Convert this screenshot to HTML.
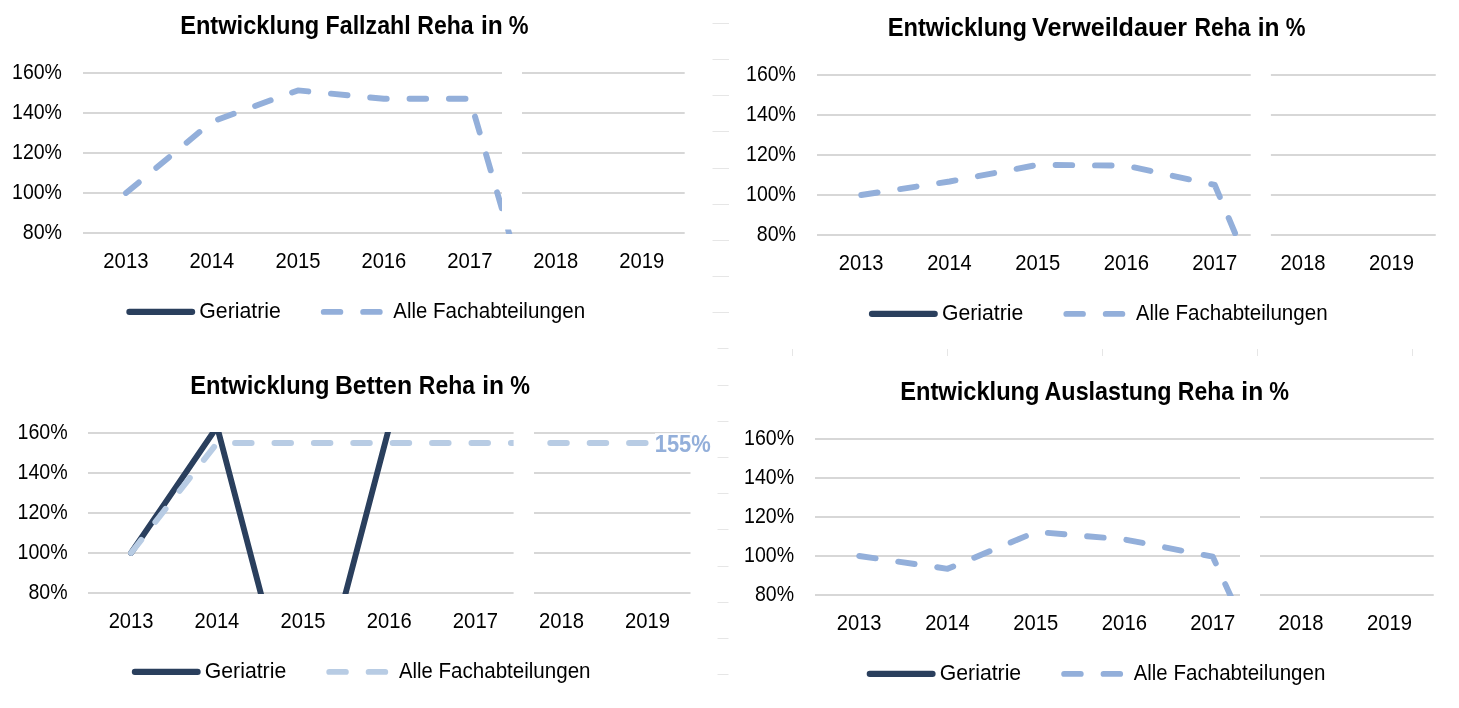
<!DOCTYPE html>
<html lang="de">
<head>
<meta charset="utf-8">
<title>Entwicklung Reha</title>
<style>
html,body{margin:0;padding:0;background:#fff;}
body{width:1459px;height:708px;overflow:hidden;}
svg{display:block;}
text{font-family:"Liberation Sans", sans-serif;fill:#000;}
</style>
</head>
<body>
<svg width="1459" height="708" viewBox="0 0 1459 708">
<rect width="1459" height="708" fill="#fff"/>
<g stroke="#e6e6e6" stroke-width="1" fill="none">
<path d="M712.5 23.5H729"/>
<path d="M712.5 59.5H729"/>
<path d="M712.5 95.5H729"/>
<path d="M712.5 131.5H729"/>
<path d="M712.5 168.5H729"/>
<path d="M712.5 204.5H729"/>
<path d="M712.5 240.5H729"/>
<path d="M712.5 276.5H729"/>
<path d="M712.5 312.5H729"/>
<path d="M717.5 348.5H728.5"/>
<path d="M717.5 385.5H728.5"/>
<path d="M717.5 421.5H728.5"/>
<path d="M717.5 457.5H728.5"/>
<path d="M717.5 493.5H728.5"/>
<path d="M717.5 529.5H728.5"/>
<path d="M717.5 566.5H728.5"/>
<path d="M717.5 602.5H728.5"/>
<path d="M717.5 638.5H728.5"/>
<path d="M717.5 674.5H728.5"/>
<path d="M792.5 349V356"/>
<path d="M947.5 349V356"/>
<path d="M1102.5 349V356"/>
<path d="M1257.5 349V356"/>
<path d="M1412.5 349V356"/>
</g>
<g id="chart1">
<g stroke="#d7d7d7" stroke-width="2" fill="none">
<path d="M83.00 73H684.70"/>
<path d="M83.00 113H684.70"/>
<path d="M83.00 153H684.70"/>
<path d="M83.00 193H684.70"/>
<path d="M83.00 233H684.70"/>
</g>
<clipPath id="clip1"><rect x="83.00" y="72.00" width="601.70" height="162.00"/></clipPath>
<g clip-path="url(#clip1)" fill="none" stroke-linecap="round" stroke-linejoin="round">
<path d="M125.98 193.00 L211.94 121.70 L297.89 90.40 L383.85 98.80 L469.81 98.80 L555.76 393.00" stroke="#93afda" stroke-width="5.90" stroke-dasharray="16.6 22.8"/>
</g>
<rect x="502.00" y="60.00" width="20.00" height="169.50" fill="#fff"/>
<text y="33.60" font-size="25.0" font-weight="bold"><tspan x="180.19" textLength="139.07" lengthAdjust="spacingAndGlyphs">Entwicklung</tspan> <tspan x="325.56" textLength="85.15" lengthAdjust="spacingAndGlyphs">Fallzahl</tspan> <tspan x="417.37" textLength="56.28" lengthAdjust="spacingAndGlyphs">Reha</tspan> <tspan x="480.95" textLength="21.81" lengthAdjust="spacingAndGlyphs">in</tspan> <tspan x="508.67" textLength="19.75" lengthAdjust="spacingAndGlyphs">%</tspan></text>
<text x="12.07" y="78.50" font-size="22.1" textLength="49.90" lengthAdjust="spacingAndGlyphs">160%</text>
<text x="12.07" y="118.50" font-size="22.1" textLength="49.90" lengthAdjust="spacingAndGlyphs">140%</text>
<text x="12.07" y="158.50" font-size="22.1" textLength="49.90" lengthAdjust="spacingAndGlyphs">120%</text>
<text x="12.07" y="198.50" font-size="22.1" textLength="49.90" lengthAdjust="spacingAndGlyphs">100%</text>
<text x="22.73" y="238.50" font-size="22.1" textLength="39.30" lengthAdjust="spacingAndGlyphs">80%</text>
<text x="103.35" y="267.70" font-size="22.1" textLength="45.09" lengthAdjust="spacingAndGlyphs">2013</text>
<text x="189.40" y="267.70" font-size="22.1" textLength="44.70" lengthAdjust="spacingAndGlyphs">2014</text>
<text x="275.40" y="267.70" font-size="22.1" textLength="45.00" lengthAdjust="spacingAndGlyphs">2015</text>
<text x="361.43" y="267.70" font-size="22.1" textLength="44.87" lengthAdjust="spacingAndGlyphs">2016</text>
<text x="447.20" y="267.70" font-size="22.1" textLength="45.27" lengthAdjust="spacingAndGlyphs">2017</text>
<text x="533.25" y="267.70" font-size="22.1" textLength="44.85" lengthAdjust="spacingAndGlyphs">2018</text>
<text x="619.29" y="267.70" font-size="22.1" textLength="45.06" lengthAdjust="spacingAndGlyphs">2019</text>
<path d="M129.35 311.90H192.15" stroke="#2a3f5d" stroke-width="6.1" stroke-linecap="round" fill="none"/>
<path d="M323.75 311.90H379.76" stroke="#93afda" stroke-width="5.90" stroke-linecap="round" stroke-dasharray="16.6 22.8" fill="none"/>
<text x="199.31" y="318.20" font-size="21.3" textLength="81.52" lengthAdjust="spacingAndGlyphs">Geriatrie</text>
<text y="318.20" font-size="21.3"><tspan x="393.37" textLength="33.82" lengthAdjust="spacingAndGlyphs">Alle</tspan> <tspan x="433.01" textLength="152.08" lengthAdjust="spacingAndGlyphs">Fachabteilungen</tspan></text>
</g>
<g id="chart2">
<g stroke="#d7d7d7" stroke-width="2" fill="none">
<path d="M817.00 75H1435.75"/>
<path d="M817.00 115H1435.75"/>
<path d="M817.00 155H1435.75"/>
<path d="M817.00 195H1435.75"/>
<path d="M817.00 235H1435.75"/>
</g>
<clipPath id="clip2"><rect x="817.00" y="74.00" width="618.75" height="162.00"/></clipPath>
<g clip-path="url(#clip2)" fill="none" stroke-linecap="round" stroke-linejoin="round">
<path d="M861.20 195.00 L949.59 181.50 L1037.98 164.80 L1126.38 165.70 L1214.77 185.00 L1303.16 395.00" stroke="#93afda" stroke-width="5.90" stroke-dasharray="16.6 22.8"/>
</g>
<rect x="1250.70" y="60.00" width="20.20" height="180.00" fill="#fff"/>
<text y="35.60" font-size="25.0" font-weight="bold"><tspan x="887.67" textLength="139.33" lengthAdjust="spacingAndGlyphs">Entwicklung</tspan> <tspan x="1032.06" textLength="154.96" lengthAdjust="spacingAndGlyphs">Verweildauer</tspan> <tspan x="1194.38" textLength="56.09" lengthAdjust="spacingAndGlyphs">Reha</tspan> <tspan x="1257.69" textLength="21.78" lengthAdjust="spacingAndGlyphs">in</tspan> <tspan x="1285.67" textLength="19.73" lengthAdjust="spacingAndGlyphs">%</tspan></text>
<text x="746.07" y="80.50" font-size="22.1" textLength="49.90" lengthAdjust="spacingAndGlyphs">160%</text>
<text x="746.07" y="120.50" font-size="22.1" textLength="49.90" lengthAdjust="spacingAndGlyphs">140%</text>
<text x="746.07" y="160.50" font-size="22.1" textLength="49.90" lengthAdjust="spacingAndGlyphs">120%</text>
<text x="746.07" y="200.50" font-size="22.1" textLength="49.90" lengthAdjust="spacingAndGlyphs">100%</text>
<text x="756.73" y="240.50" font-size="22.1" textLength="39.30" lengthAdjust="spacingAndGlyphs">80%</text>
<text x="838.71" y="269.70" font-size="22.1" textLength="44.85" lengthAdjust="spacingAndGlyphs">2013</text>
<text x="927.16" y="269.70" font-size="22.1" textLength="44.61" lengthAdjust="spacingAndGlyphs">2014</text>
<text x="1015.36" y="269.70" font-size="22.1" textLength="45.00" lengthAdjust="spacingAndGlyphs">2015</text>
<text x="1103.83" y="269.70" font-size="22.1" textLength="45.13" lengthAdjust="spacingAndGlyphs">2016</text>
<text x="1192.26" y="269.70" font-size="22.1" textLength="45.11" lengthAdjust="spacingAndGlyphs">2017</text>
<text x="1280.54" y="269.70" font-size="22.1" textLength="45.09" lengthAdjust="spacingAndGlyphs">2018</text>
<text x="1368.95" y="269.70" font-size="22.1" textLength="45.06" lengthAdjust="spacingAndGlyphs">2019</text>
<path d="M871.95 313.90H934.75" stroke="#2a3f5d" stroke-width="6.1" stroke-linecap="round" fill="none"/>
<path d="M1066.35 313.90H1122.36" stroke="#93afda" stroke-width="5.90" stroke-linecap="round" stroke-dasharray="16.6 22.8" fill="none"/>
<text x="942.01" y="320.20" font-size="21.3" textLength="81.26" lengthAdjust="spacingAndGlyphs">Geriatrie</text>
<text y="320.20" font-size="21.3"><tspan x="1136.05" textLength="33.55" lengthAdjust="spacingAndGlyphs">Alle</tspan> <tspan x="1175.50" textLength="152.07" lengthAdjust="spacingAndGlyphs">Fachabteilungen</tspan></text>
</g>
<g id="chart3">
<g stroke="#d7d7d7" stroke-width="2" fill="none">
<path d="M88.00 433H690.50"/>
<path d="M88.00 473H690.50"/>
<path d="M88.00 513H690.50"/>
<path d="M88.00 553H690.50"/>
<path d="M88.00 593H690.50"/>
</g>
<clipPath id="clip3"><rect x="88.00" y="432.00" width="602.50" height="162.00"/></clipPath>
<g clip-path="url(#clip3)" fill="none" stroke-linecap="round" stroke-linejoin="round">
<path d="M131.04 553.00 L217.11 426.70 L303.18 755.00 L389.25 427.00" stroke="#2a3f5d" stroke-width="5.90"/>
<path d="M131.04 553.00 L217.11 443.00 L647.46 443.00" stroke="#b8cce4" stroke-width="5.90" stroke-dasharray="16.6 22.8"/>
</g>
<rect x="513.60" y="420.00" width="20.40" height="178.00" fill="#fff"/>
<text y="393.60" font-size="25.0" font-weight="bold"><tspan x="190.19" textLength="139.30" lengthAdjust="spacingAndGlyphs">Entwicklung</tspan> <tspan x="334.88" textLength="77.21" lengthAdjust="spacingAndGlyphs">Betten</tspan> <tspan x="418.85" textLength="56.10" lengthAdjust="spacingAndGlyphs">Reha</tspan> <tspan x="482.16" textLength="21.80" lengthAdjust="spacingAndGlyphs">in</tspan> <tspan x="510.21" textLength="19.71" lengthAdjust="spacingAndGlyphs">%</tspan></text>
<text x="17.55" y="438.50" font-size="22.1" textLength="50.19" lengthAdjust="spacingAndGlyphs">160%</text>
<text x="17.55" y="478.50" font-size="22.1" textLength="50.19" lengthAdjust="spacingAndGlyphs">140%</text>
<text x="17.55" y="518.50" font-size="22.1" textLength="50.19" lengthAdjust="spacingAndGlyphs">120%</text>
<text x="17.55" y="558.50" font-size="22.1" textLength="50.19" lengthAdjust="spacingAndGlyphs">100%</text>
<text x="28.43" y="598.50" font-size="22.1" textLength="39.09" lengthAdjust="spacingAndGlyphs">80%</text>
<text x="108.64" y="627.70" font-size="22.1" textLength="44.90" lengthAdjust="spacingAndGlyphs">2013</text>
<text x="194.54" y="627.70" font-size="22.1" textLength="44.74" lengthAdjust="spacingAndGlyphs">2014</text>
<text x="280.62" y="627.70" font-size="22.1" textLength="44.95" lengthAdjust="spacingAndGlyphs">2015</text>
<text x="366.75" y="627.70" font-size="22.1" textLength="44.91" lengthAdjust="spacingAndGlyphs">2016</text>
<text x="452.84" y="627.70" font-size="22.1" textLength="45.11" lengthAdjust="spacingAndGlyphs">2017</text>
<text x="538.92" y="627.70" font-size="22.1" textLength="45.05" lengthAdjust="spacingAndGlyphs">2018</text>
<text x="625.02" y="627.70" font-size="22.1" textLength="45.01" lengthAdjust="spacingAndGlyphs">2019</text>
<path d="M134.85 671.90H197.65" stroke="#2a3f5d" stroke-width="6.1" stroke-linecap="round" fill="none"/>
<path d="M329.25 671.90H385.26" stroke="#b8cce4" stroke-width="5.90" stroke-linecap="round" stroke-dasharray="16.6 22.8" fill="none"/>
<text x="204.78" y="678.20" font-size="21.3" textLength="81.43" lengthAdjust="spacingAndGlyphs">Geriatrie</text>
<text y="678.20" font-size="21.3"><tspan x="399.07" textLength="33.60" lengthAdjust="spacingAndGlyphs">Alle</tspan> <tspan x="438.47" textLength="152.08" lengthAdjust="spacingAndGlyphs">Fachabteilungen</tspan></text>
<rect x="655" y="433.2" width="56.5" height="21" fill="#fff"/>
<text x="654.71" y="452.00" font-size="24.0" font-weight="bold" style="fill:#93afda" textLength="56.14" lengthAdjust="spacingAndGlyphs">155%</text>
</g>
<g id="chart4">
<g stroke="#d7d7d7" stroke-width="2" fill="none">
<path d="M815.00 439H1433.75"/>
<path d="M815.00 478H1433.75"/>
<path d="M815.00 517H1433.75"/>
<path d="M815.00 556H1433.75"/>
<path d="M815.00 595H1433.75"/>
</g>
<clipPath id="clip4"><rect x="815.00" y="438.00" width="618.75" height="158.00"/></clipPath>
<g clip-path="url(#clip4)" fill="none" stroke-linecap="round" stroke-linejoin="round">
<path d="M859.20 556.00 L947.59 568.80 L1035.98 531.90 L1124.38 539.40 L1212.77 556.70 L1301.16 751.00" stroke="#93afda" stroke-width="5.90" stroke-dasharray="16.6 22.8"/>
</g>
<rect x="1240.00" y="441.00" width="20.00" height="159.00" fill="#fff"/>
<text y="399.60" font-size="25.0" font-weight="bold"><tspan x="900.19" textLength="139.30" lengthAdjust="spacingAndGlyphs">Entwicklung</tspan> <tspan x="1044.52" textLength="127.09" lengthAdjust="spacingAndGlyphs">Auslastung</tspan> <tspan x="1177.87" textLength="56.24" lengthAdjust="spacingAndGlyphs">Reha</tspan> <tspan x="1241.37" textLength="21.87" lengthAdjust="spacingAndGlyphs">in</tspan> <tspan x="1269.22" textLength="19.74" lengthAdjust="spacingAndGlyphs">%</tspan></text>
<text x="744.09" y="444.50" font-size="22.1" textLength="50.07" lengthAdjust="spacingAndGlyphs">160%</text>
<text x="744.09" y="483.50" font-size="22.1" textLength="50.07" lengthAdjust="spacingAndGlyphs">140%</text>
<text x="744.09" y="522.50" font-size="22.1" textLength="50.07" lengthAdjust="spacingAndGlyphs">120%</text>
<text x="744.09" y="561.50" font-size="22.1" textLength="50.07" lengthAdjust="spacingAndGlyphs">100%</text>
<text x="754.98" y="600.50" font-size="22.1" textLength="39.08" lengthAdjust="spacingAndGlyphs">80%</text>
<text x="836.71" y="629.70" font-size="22.1" textLength="44.85" lengthAdjust="spacingAndGlyphs">2013</text>
<text x="925.16" y="629.70" font-size="22.1" textLength="44.61" lengthAdjust="spacingAndGlyphs">2014</text>
<text x="1013.36" y="629.70" font-size="22.1" textLength="45.00" lengthAdjust="spacingAndGlyphs">2015</text>
<text x="1101.83" y="629.70" font-size="22.1" textLength="45.13" lengthAdjust="spacingAndGlyphs">2016</text>
<text x="1190.26" y="629.70" font-size="22.1" textLength="45.11" lengthAdjust="spacingAndGlyphs">2017</text>
<text x="1278.54" y="629.70" font-size="22.1" textLength="45.09" lengthAdjust="spacingAndGlyphs">2018</text>
<text x="1366.95" y="629.70" font-size="22.1" textLength="45.06" lengthAdjust="spacingAndGlyphs">2019</text>
<path d="M869.75 673.90H932.55" stroke="#2a3f5d" stroke-width="6.1" stroke-linecap="round" fill="none"/>
<path d="M1064.15 673.90H1120.16" stroke="#93afda" stroke-width="5.90" stroke-linecap="round" stroke-dasharray="16.6 22.8" fill="none"/>
<text x="939.82" y="680.20" font-size="21.3" textLength="81.36" lengthAdjust="spacingAndGlyphs">Geriatrie</text>
<text y="680.20" font-size="21.3"><tspan x="1133.83" textLength="33.76" lengthAdjust="spacingAndGlyphs">Alle</tspan> <tspan x="1173.50" textLength="151.83" lengthAdjust="spacingAndGlyphs">Fachabteilungen</tspan></text>
</g>
</svg>
</body>
</html>
